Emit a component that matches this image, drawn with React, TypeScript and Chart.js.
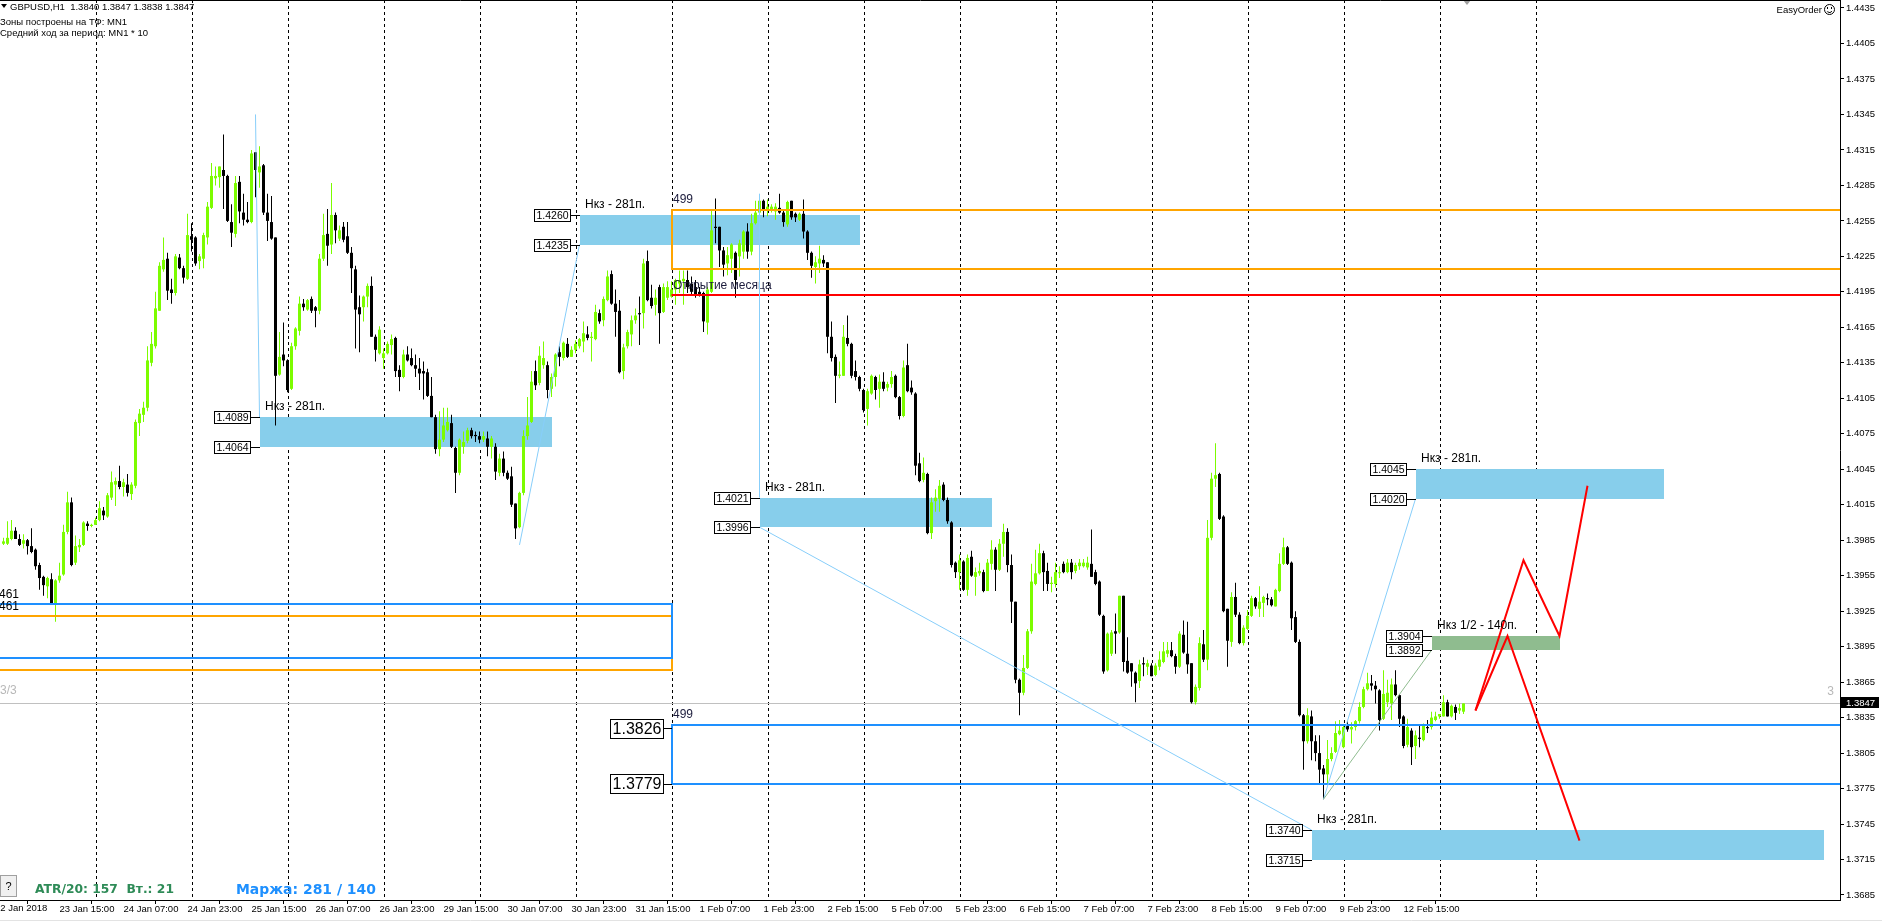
import React, { useEffect, useRef } from "react";
import { Chart, registerables } from "chart.js";

Chart.register(...registerables);

// ---------------- DATA (prices in 1/10000, GBPUSD H1) ----------------
const PRICE_SCALE = 10000;

const OPEN_P = [
  13982,13982,13986,13993,13986,13982,13985,13980,13977,13964,
  13954,13946,13952,13931,13951,13956,13992,14017,13966,13979,
  13981,13999,13997,13998,14002,14010,14005,14021,14032,14035,
  14030,14032,14024,14031,14084,14091,14097,14135,14149,14179,
  14214,14223,14197,14194,14224,14215,14206,14242,14241,14221,
  14223,14241,14266,14291,14292,14298,14293,14254,14244,14288,
  14262,14256,14254,14313,14296,14302,14262,14254,14241,14125,
  14142,14137,14113,14149,14162,14185,14180,14189,14182,14179,
  14223,14244,14235,14260,14240,14250,14242,14228,14214,14182,
  14182,14191,14200,14157,14143,14139,14143,14150,14156,14129,
  14123,14142,14139,14133,14130,14128,14127,14107,14089,14062,
  14070,14078,14084,14063,14042,14064,14069,14078,14074,14073,
  14070,14071,14064,14064,14042,14054,14042,14039,14016,13996,
  14025,14073,14085,14128,14118,14133,14133,14113,14123,14144,
  14139,14151,14140,14146,14149,14153,14159,14156,14155,14177,
  14171,14188,14210,14185,14179,14128,14149,14159,14171,14177,
  14177,14221,14190,14184,14199,14178,14190,14191,14197,14202,
  14204,14205,14202,14199,14195,14194,14169,14195,14250,14250,
  14230,14219,14223,14228,14225,14229,14246,14229,14253,14262,
  14272,14264,14265,14263,14266,14262,14252,14272,14261,14256,
  14261,14246,14228,14216,14219,14222,14220,14157,14140,14124,
  14124,14156,14151,14128,14123,14112,14096,14109,14123,14113,
  14119,14114,14117,14124,14106,14090,14133,14114,14109,14050,
  14036,14041,13991,14018,14020,14032,14019,14000,13966,13958,
  13967,13943,13971,13954,13957,13958,13942,13965,13977,13960,
  13982,13992,13964,13933,13867,13856,13877,13908,13948,13957,
  13974,13959,13948,13948,13957,13965,13958,13966,13959,13963,
  13963,13962,13965,13958,13950,13921,13875,13889,13908,13907,
  13938,13883,13881,13873,13866,13881,13878,13879,13871,13878,
  13882,13889,13892,13887,13878,13905,13889,13881,13848,13860,
  13897,13884,13987,14037,14041,14005,13927,13899,13937,13922,
  13898,13910,13921,13936,13927,13932,13936,13935,13929,13942,
  13965,13979,13966,13920,13899,13837,13815,13836,13815,13805,
  13792,13787,13800,13806,13821,13810,13828,13825,13827,13832,
  13844,13859,13864,13862,13858,13834,13848,13847,13863,13854,
  13836,13812,13824,13811,13818,13816,13827,13827,13833,13836,
  13836,13848,13836,13844,13841,13840,
];

const HIGH_P = [
  13987,14001,14002,13996,13990,13990,13986,13995,13978,13966,
  13955,13954,13957,13952,13966,13998,14026,14021,13989,13986,
  14001,14001,13999,14004,14018,14013,14025,14043,14038,14048,
  14037,14041,14034,14087,14096,14102,14149,14161,14195,14220,
  14241,14228,14206,14227,14227,14217,14261,14253,14242,14227,
  14245,14271,14304,14301,14301,14328,14294,14269,14293,14293,
  14278,14271,14315,14313,14318,14303,14278,14276,14241,14161,
  14169,14138,14152,14165,14191,14189,14189,14191,14183,14227,
  14261,14265,14287,14262,14251,14254,14254,14233,14217,14192,
  14192,14202,14208,14159,14166,14147,14153,14159,14157,14133,
  14146,14149,14147,14142,14139,14136,14130,14123,14091,14094,
  14097,14097,14091,14064,14071,14077,14080,14080,14077,14077,
  14077,14077,14073,14067,14058,14060,14044,14047,14016,14026,
  14078,14106,14128,14137,14149,14153,14136,14126,14143,14149,
  14153,14156,14149,14154,14156,14170,14166,14161,14184,14180,
  14191,14213,14213,14197,14188,14151,14163,14175,14181,14191,
  14223,14230,14201,14197,14201,14202,14204,14204,14206,14213,
  14213,14213,14208,14205,14199,14195,14199,14264,14274,14250,
  14233,14233,14236,14229,14239,14247,14253,14261,14272,14273,
  14273,14273,14269,14270,14278,14264,14272,14272,14262,14262,
  14273,14247,14229,14225,14234,14226,14220,14170,14142,14136,
  14167,14175,14152,14137,14124,14113,14113,14125,14124,14125,
  14127,14119,14128,14125,14107,14137,14151,14120,14110,14059,
  14055,14042,14021,14028,14036,14034,14021,14001,13967,13973,
  13968,13973,13976,13962,13966,13960,13969,13985,13979,13986,
  13999,13995,13973,13933,13868,13888,13910,13965,13977,13982,
  13976,13966,13954,13966,13963,13967,13969,13969,13966,13969,
  13969,13971,13994,13960,13951,13922,13907,13909,13923,13938,
  13938,13903,13881,13874,13884,13886,13884,13881,13881,13891,
  13899,13899,13899,13889,13908,13917,13916,13881,13863,13903,
  13909,14002,14042,14067,14042,14006,13927,13941,13949,13924,
  13913,13926,13938,13937,13946,13938,13940,13937,13944,13974,
  13987,13980,13967,13925,13901,13838,13843,13841,13820,13820,
  13795,13816,13810,13832,13833,13829,13832,13831,13833,13848,
  13861,13873,13871,13866,13859,13875,13867,13868,13875,13855,
  13837,13834,13826,13824,13828,13830,13833,13840,13840,13838,
  13854,13850,13846,13846,13847,13847,
];

const LOW_P = [
  13981,13981,13985,13986,13980,13978,13973,13974,13960,13943,
  13938,13936,13931,13916,13949,13955,13990,13963,13964,13975,
  13980,13993,13996,13998,14001,14002,14004,14019,14014,14028,
  14022,14022,14019,14029,14073,14085,14094,14132,14147,14179,
  14212,14188,14185,14192,14214,14202,14205,14229,14217,14214,
  14215,14235,14265,14285,14283,14265,14254,14233,14241,14253,
  14251,14253,14253,14275,14283,14260,14238,14239,14082,14124,
  14132,14110,14112,14146,14158,14179,14179,14177,14165,14176,
  14221,14217,14227,14236,14238,14237,14227,14194,14147,14144,
  14170,14182,14157,14136,14142,14130,14142,14142,14123,14111,
  14122,14136,14132,14123,14112,14104,14106,14089,14058,14056,
  14068,14077,14063,14025,14040,14058,14067,14071,14068,14067,
  14068,14056,14054,14036,14039,14039,14036,14013,13986,13995,
  14023,14070,14084,14112,14116,14130,14105,14106,14115,14132,
  14137,14139,14140,14143,14147,14144,14154,14136,14154,14168,
  14166,14187,14184,14157,14126,14121,14147,14149,14168,14150,
  14164,14187,14181,14175,14151,14177,14188,14190,14184,14194,
  14184,14194,14192,14190,14191,14161,14159,14194,14236,14216,
  14208,14209,14211,14190,14208,14223,14223,14226,14252,14256,
  14258,14259,14262,14256,14261,14250,14250,14256,14254,14255,
  14240,14222,14207,14202,14211,14216,14143,14136,14101,14122,
  14124,14149,14122,14120,14111,14093,14082,14108,14104,14097,
  14111,14111,14114,14105,14087,14089,14110,14108,14040,14034,
  14034,13990,13986,14009,14009,14018,13999,13962,13953,13943,
  13942,13938,13954,13938,13955,13941,13942,13960,13942,13959,
  13971,13958,13915,13864,13837,13854,13876,13906,13947,13956,
  13942,13942,13941,13945,13953,13957,13957,13952,13957,13960,
  13962,13960,13954,13947,13921,13872,13874,13887,13889,13906,
  13874,13872,13861,13848,13860,13870,13871,13870,13870,13875,
  13881,13886,13886,13872,13877,13889,13872,13847,13846,13858,
  13882,13875,13985,14030,14002,13924,13878,13895,13920,13897,
  13896,13909,13920,13927,13920,13920,13930,13929,13929,13941,
  13964,13964,13909,13898,13836,13791,13813,13799,13798,13779,
  13766,13779,13798,13805,13820,13809,13823,13813,13824,13830,
  13843,13858,13858,13847,13824,13833,13844,13833,13853,13827,
  13809,13810,13795,13800,13810,13815,13822,13825,13832,13834,
  13836,13836,13835,13833,13838,13838,
];

const CLOSE_P = [
  13984,13987,13993,13986,13981,13985,13980,13975,13963,13953,
  13947,13953,13931,13951,13955,13992,14017,13964,13980,13981,
  14000,13997,13998,14002,14012,14006,14023,14034,14035,14030,
  14034,14025,14032,14085,14092,14097,14137,14151,14181,14217,
  14222,14196,14194,14225,14215,14207,14243,14239,14219,14225,
  14243,14267,14293,14293,14301,14293,14255,14245,14287,14263,
  14256,14254,14312,14298,14301,14262,14255,14240,14124,14140,
  14137,14112,14149,14164,14185,14182,14188,14179,14179,14223,
  14243,14234,14260,14247,14247,14239,14228,14215,14180,14176,
  14191,14200,14157,14146,14163,14143,14151,14155,14128,14123,
  14142,14137,14133,14130,14126,14126,14107,14089,14062,14070,
  14082,14085,14064,14042,14070,14068,14078,14073,14073,14070,
  14073,14064,14071,14043,14054,14042,14037,14015,13995,14025,
  14073,14082,14119,14116,14141,14139,14112,14123,14142,14140,
  14152,14140,14146,14151,14155,14160,14156,14157,14178,14170,
  14189,14208,14185,14178,14127,14148,14161,14171,14175,14176,
  14219,14188,14183,14190,14177,14199,14199,14197,14205,14205,
  14206,14199,14195,14192,14192,14170,14197,14247,14249,14230,
  14218,14226,14235,14205,14236,14246,14229,14253,14262,14272,
  14265,14267,14267,14267,14262,14254,14271,14258,14258,14261,
  14246,14228,14217,14220,14223,14219,14157,14139,14124,14125,
  14157,14151,14124,14123,14113,14095,14111,14124,14112,14119,
  14113,14117,14123,14106,14090,14131,14111,14110,14048,14035,
  14042,13991,14017,14021,14031,14019,14001,13964,13958,13968,
  13943,13970,13955,13958,13959,13942,13966,13977,13960,13982,
  13992,13964,13933,13867,13856,13877,13908,13950,13957,13974,
  13958,13948,13949,13958,13958,13958,13966,13958,13964,13966,
  13966,13966,13954,13948,13922,13874,13906,13907,13906,13938,
  13882,13873,13874,13864,13880,13880,13881,13870,13879,13884,
  13891,13892,13887,13878,13906,13890,13880,13848,13861,13898,
  13884,13987,14037,14040,14003,13925,13900,13937,13922,13898,
  13911,13921,13936,13929,13933,13937,13935,13930,13943,13965,
  13979,13965,13919,13899,13837,13815,13837,13815,13805,13791,
  13787,13800,13805,13822,13824,13827,13825,13827,13832,13844,
  13859,13864,13862,13859,13833,13855,13856,13863,13854,13834,
  13811,13827,13810,13820,13817,13828,13826,13835,13836,13838,
  13848,13836,13845,13839,13843,13847,
];

// time axis labels (every 16 H1 bars, first at bar 14)
const X_LABEL_BARS = [14, 30, 46, 62, 78, 94, 110, 126, 142, 158, 174, 190, 206, 222, 238, 254, 270, 286, 302, 318, 334, 350];
const X_LABELS = [
  "23 Jan 15:00", "24 Jan 07:00", "24 Jan 23:00", "25 Jan 15:00", "26 Jan 07:00", "26 Jan 23:00",
  "29 Jan 15:00", "30 Jan 07:00", "30 Jan 23:00", "31 Jan 15:00", "1 Feb 07:00", "1 Feb 23:00",
  "2 Feb 15:00", "5 Feb 07:00", "5 Feb 23:00", "6 Feb 15:00", "7 Feb 07:00", "7 Feb 23:00",
  "8 Feb 15:00", "9 Feb 07:00", "9 Feb 23:00", "12 Feb 15:00",
];
const FIRST_DATE_LABEL = "22 Jan 2018";
const Y_TICKS = [
  1.4435, 1.4405, 1.4375, 1.4345, 1.4315, 1.4285, 1.4255, 1.4225, 1.4195, 1.4165, 1.4135, 1.4105, 1.4075,
  1.4045, 1.4015, 1.3985, 1.3955, 1.3925, 1.3895, 1.3865, 1.3835, 1.3805, 1.3775, 1.3745, 1.3715, 1.3685,
];
const GRID_BARS = [23.125, 47.125, 71.125, 95.125, 119.125, 143.125, 167.125, 191.125, 215.125, 239.125, 263.125, 287.125, 311.125, 335.125, 359.125, 383.125];

// supply/demand zones: [fromBar, toBar, lowPrice, highPrice]
const ZONES_281 = [
  [64, 137, 14064, 14089],
  [144, 214, 14235, 14260],
  [189, 247, 13996, 14021],
  [353, 415, 14020, 14045],
  [327, 455, 13715, 13740],
];
const ZONE_HALF = [357, 389, 13892, 13904];
const ZONE_TITLE = "Нкз - 281п.";
const ZONE_HALF_TITLE = "Нкз 1/2 - 140п.";

// monthly range boxes: [fromBar, toBar, lowPrice, highPrice]
const ORANGE_BOXES = [[167, 520, 14214, 14264], [-20, 167, 13875, 13921]];
const BLUE_BOXES = [[167, 520, 13779, 13829], [-20, 167, 13885, 13931]];
const BLUE_BOX_LEVELS = [13826, 13779];
const MONTH_OPEN = [167, 520, 14192];
const MONTH_OPEN_TEXT = "Открытие месяца";
const BOX_TAG = "499";
const LEFT_BOX_TAG = "461";

// trend lines [[bar, price], [bar, price]]
const SKY_LINES = [
  [[63, 14345], [64, 14089]],
  [[129, 13981], [144, 14235]],
  [[189, 14278], [189, 14021]],
  [[189, 13996], [327, 13740]],
  [[330, 13766], [353, 14020]],
];
const GREEN_LINE = [[330, 13766], [357, 13892]];
const RED_PATH_UP = [[368, 13841], [380, 13968], [389, 13904], [396, 14031]];
const RED_PATH_DOWN = [[368, 13841], [376, 13904], [394, 13731]];

const LAST_PRICE = 13847;
const HEADER = ["GBPUSD,H1  1.3840 1.3847 1.3838 1.3847", "Зоны построены на ТФ: MN1", "Средний ход за период: MN1 * 10"];
const ATR_TEXT = "ATR/20: 157  Вт.: 21";
const MARGIN_TEXT = "Маржа: 281 / 140";

// ---------------- helpers ----------------
const FONT = '"Liberation Sans", Arial, sans-serif';
const X_MIN = -0.875;
const X_MAX = 459.125;
const Y_MAX = 1.444176;
const Y_MIN = 1.368077;

function fitFont(ctx: CanvasRenderingContext2D, text: string, target: number, weight: string, family: string) {
  ctx.font = `${weight} 14px ${family}`;
  const w = ctx.measureText(text).width;
  const size = Math.max(10, Math.min(18, (14 * target) / w));
  ctx.font = `${weight} ${size.toFixed(2)}px ${family}`;
}

const overlayPlugin = {
  id: "mt4overlay",
  beforeDatasetsDraw(chart: any) {
    const { ctx, chartArea: ca } = chart;
    const X = (b: number) => chart.scales.x.getPixelForValue(b);
    const Y = (p: number) => chart.scales.y.getPixelForValue(p / PRICE_SCALE);
    ctx.save();
    ctx.beginPath();
    ctx.rect(ca.left, ca.top, ca.right - ca.left, ca.bottom - ca.top);
    ctx.clip();
    // dotted vertical grid
    ctx.strokeStyle = "#000";
    ctx.lineWidth = 1;
    ctx.setLineDash([3, 3]);
    for (const g of GRID_BARS) {
      const x = Math.round(X(g)) + 0.5;
      ctx.beginPath();
      ctx.moveTo(x, ca.top);
      ctx.lineTo(x, ca.bottom);
      ctx.stroke();
    }
    ctx.setLineDash([]);
    // filled zones
    const fillZone = (z: number[], color: string) => {
      const x0 = Math.round(X(z[0]));
      const x1 = Math.round(X(z[1]));
      const y0 = Math.round(Y(z[3]));
      const y1 = Math.round(Y(z[2]));
      ctx.fillStyle = color;
      ctx.fillRect(x0, y0, x1 - x0, y1 - y0);
    };
    for (const z of ZONES_281) fillZone(z, "#87CEEB");
    fillZone(ZONE_HALF, "#8FBC8F");
    // current price line
    const yl = Math.round(Y(LAST_PRICE)) + 0.5;
    ctx.strokeStyle = "#C0C0C0";
    ctx.beginPath();
    ctx.moveTo(ca.left, yl);
    ctx.lineTo(ca.right, yl);
    ctx.stroke();
    ctx.fillStyle = "#B8B8B8";
    ctx.font = `12px ${FONT}`;
    ctx.textBaseline = "middle";
    ctx.textAlign = "left";
    ctx.fillText("3/3", 0, yl - 13);
    ctx.textAlign = "right";
    ctx.fillText("3", ca.right - 6, yl - 12);
    ctx.restore();
  },
  afterDatasetsDraw(chart: any) {
    const { ctx, chartArea: ca } = chart;
    const X = (b: number) => chart.scales.x.getPixelForValue(b);
    const Y = (p: number) => chart.scales.y.getPixelForValue(p / PRICE_SCALE);
    ctx.save();
    ctx.beginPath();
    ctx.rect(ca.left, ca.top, ca.right - ca.left, ca.bottom - ca.top);
    ctx.clip();

    const box = (b: number[], color: string) => {
      const x0 = Math.round(X(b[0]));
      const x1 = Math.round(X(b[1]));
      const y0 = Math.round(Y(b[3]));
      const y1 = Math.round(Y(b[2]));
      ctx.strokeStyle = color;
      ctx.lineWidth = 2;
      ctx.strokeRect(x0, y0, x1 - x0, y1 - y0);
    };
    for (const b of ORANGE_BOXES) box(b, "#FFA500");
    for (const b of BLUE_BOXES) box(b, "#1E90FF");
    // month open line
    {
      const y = Math.round(Y(MONTH_OPEN[2]));
      ctx.strokeStyle = "#FF0000";
      ctx.lineWidth = 2;
      ctx.beginPath();
      ctx.moveTo(X(MONTH_OPEN[0]), y);
      ctx.lineTo(X(MONTH_OPEN[1]), y);
      ctx.stroke();
      ctx.fillStyle = "#1c1c3c";
      ctx.font = `12px ${FONT}`;
      ctx.textAlign = "left";
      ctx.textBaseline = "middle";
      ctx.fillText(MONTH_OPEN_TEXT, Math.round(X(MONTH_OPEN[0])) + 1, y - 9);
    }
    // tags above range boxes
    ctx.fillStyle = "#1c1c3c";
    ctx.font = `12px ${FONT}`;
    ctx.fillText(BOX_TAG, Math.round(X(ORANGE_BOXES[0][0])) + 1, Math.round(Y(ORANGE_BOXES[0][3])) - 10);
    ctx.fillText(BOX_TAG, Math.round(X(BLUE_BOXES[0][0])) + 1, Math.round(Y(BLUE_BOXES[0][3])) - 10);
    ctx.fillStyle = "#000";
    ctx.fillText(LEFT_BOX_TAG, -1, Math.round(Y(BLUE_BOXES[1][3])) - 9);
    ctx.fillText(LEFT_BOX_TAG, -1, Math.round(Y(ORANGE_BOXES[1][3])) - 9);

    // thin trend lines
    const line = (pts: number[][], color: string, w: number) => {
      ctx.strokeStyle = color;
      ctx.lineWidth = w;
      ctx.lineJoin = "miter";
      ctx.beginPath();
      pts.forEach((p, i) => {
        const x = X(p[0]);
        const y = Y(p[1]);
        if (i === 0) ctx.moveTo(x, y);
        else ctx.lineTo(x, y);
      });
      ctx.stroke();
    };
    for (const l of SKY_LINES) line(l, "#87CEFA", 1);
    line(GREEN_LINE, "#8FBC8F", 1);
    line(RED_PATH_UP, "#FF0000", 2);
    line(RED_PATH_DOWN, "#FF0000", 2);

    // zone labels
    const labelBox = (text: string, right: number, cy: number, w: number, h: number, size: number, lineTo: number) => {
      const x0 = Math.round(right - w) + 0.5;
      const y0 = Math.round(cy - h / 2) + 0.5;
      ctx.fillStyle = "#fff";
      ctx.fillRect(x0, y0, w, h);
      ctx.strokeStyle = "#000";
      ctx.lineWidth = 1;
      ctx.strokeRect(x0, y0, w, h);
      ctx.beginPath();
      ctx.moveTo(x0 + w, Math.round(cy) + 0.5);
      ctx.lineTo(lineTo, Math.round(cy) + 0.5);
      ctx.stroke();
      ctx.fillStyle = "#000";
      ctx.font = `${size}px ${FONT}`;
      ctx.textAlign = "center";
      ctx.textBaseline = "middle";
      ctx.fillText(text, x0 + w / 2, y0 + h / 2 + 0.5);
    };
    const zoneLabels = (z: number[], title: string) => {
      const left = Math.round(X(z[0]));
      const top = Y(z[3]);
      const bottom = Y(z[2]);
      labelBox((z[3] / PRICE_SCALE).toFixed(4), left - 10, top, 36, 12, 10.5, left);
      labelBox((z[2] / PRICE_SCALE).toFixed(4), left - 10, bottom, 36, 12, 10.5, left);
      ctx.fillStyle = "#000";
      ctx.font = `12px ${FONT}`;
      ctx.textAlign = "left";
      ctx.textBaseline = "middle";
      ctx.fillText(title, left + 5, Math.round(top) - 10);
    };
    for (const z of ZONES_281) zoneLabels(z, ZONE_TITLE);
    zoneLabels(ZONE_HALF, ZONE_HALF_TITLE);
    {
      const left = Math.round(X(BLUE_BOXES[0][0]));
      for (const lv of BLUE_BOX_LEVELS) labelBox((lv / PRICE_SCALE).toFixed(4), left - 9, Y(lv), 53, 19, 16, left);
    }

    // chart shift marker
    ctx.fillStyle = "#A0A0A0";
    ctx.beginPath();
    ctx.moveTo(1463, 0);
    ctx.lineTo(1471, 0);
    ctx.lineTo(1467, 5);
    ctx.closePath();
    ctx.fill();

    // bottom info
    ctx.fillStyle = "#F0F0F0";
    ctx.fillRect(0.5, 875.5, 16, 21);
    ctx.strokeStyle = "#A0A0A0";
    ctx.lineWidth = 1;
    ctx.strokeRect(0.5, 875.5, 16, 21);
    ctx.fillStyle = "#000";
    ctx.font = `11px ${FONT}`;
    ctx.textAlign = "center";
    ctx.textBaseline = "middle";
    ctx.fillText("?", 8.5, 886.5);
    ctx.textAlign = "left";
    ctx.fillStyle = "#2E8B57";
    fitFont(ctx, ATR_TEXT, 139, "bold", '"DejaVu Sans", sans-serif');
    ctx.fillText(ATR_TEXT, 35, 890);
    ctx.fillStyle = "#1E90FF";
    fitFont(ctx, MARGIN_TEXT, 140, "bold", '"DejaVu Sans", sans-serif');
    ctx.fillText(MARGIN_TEXT, 236, 890);
    ctx.restore();

    // unclipped: header texts, price tag, first date label, borders
    ctx.save();
    ctx.fillStyle = "#000";
    ctx.beginPath();
    ctx.moveTo(1, 4);
    ctx.lineTo(7, 4);
    ctx.lineTo(4, 8);
    ctx.closePath();
    ctx.fill();
    ctx.font = `9.5px ${FONT}`;
    ctx.textAlign = "left";
    ctx.textBaseline = "middle";
    ctx.fillText(HEADER[0], 10, 7);
    ctx.fillText(HEADER[1], 0, 22);
    ctx.fillText(HEADER[2], 0, 33);
    ctx.textAlign = "right";
    ctx.fillText("EasyOrder", 1822, 10);
    ctx.strokeStyle = "#000";
    ctx.lineWidth = 1;
    ctx.beginPath();
    ctx.arc(1829.5, 9.5, 5, 0, Math.PI * 2);
    ctx.stroke();
    ctx.fillRect(1827, 7, 1, 2);
    ctx.fillRect(1831, 7, 1, 2);
    ctx.beginPath();
    ctx.arc(1829.5, 9.5, 3, 0.2 * Math.PI, 0.8 * Math.PI);
    ctx.stroke();

    const yp = Math.round(Y(LAST_PRICE));
    ctx.fillStyle = "#000";
    ctx.fillRect(ca.right + 1, yp - 6, 38, 11);
    ctx.fillStyle = "#fff";
    ctx.font = `9.5px ${FONT}`;
    ctx.textAlign = "left";
    ctx.textBaseline = "middle";
    ctx.fillText((LAST_PRICE / PRICE_SCALE).toFixed(4), ca.right + 6, yp);
    ctx.fillStyle = "#000";
    ctx.textBaseline = "top";
    ctx.fillText(FIRST_DATE_LABEL, -5, ca.bottom + 4);
    ctx.strokeStyle = "#000";
    ctx.lineWidth = 1;
    ctx.beginPath();
    ctx.moveTo(0, 0.5);
    ctx.lineTo(ca.right + 1, 0.5);
    ctx.stroke();
    ctx.strokeStyle = "#E3E3E3";
    ctx.beginPath();
    ctx.moveTo(0, 920.5);
    ctx.lineTo(1882, 920.5);
    ctx.stroke();
    ctx.restore();
  },
};

export default function App() {
  const ref = useRef<HTMLCanvasElement>(null);
  useEffect(() => {
    const n = OPEN_P.length;
    const wicks: any[] = [];
    const bodies: any[] = [];
    const colors: string[] = [];
    for (let i = 0; i < n; i++) {
      const o = OPEN_P[i] / PRICE_SCALE;
      const c = CLOSE_P[i] / PRICE_SCALE;
      const h = Math.max(HIGH_P[i], OPEN_P[i], CLOSE_P[i]) / PRICE_SCALE;
      const l = Math.min(LOW_P[i], OPEN_P[i], CLOSE_P[i]) / PRICE_SCALE;
      wicks.push({ x: i, y: [l, h] });
      bodies.push({ x: i, y: [Math.min(o, c), Math.max(o, c)] });
      colors.push(c >= o ? "#7CFC00" : "#000000");
    }
    const tickFont = { family: FONT, size: 9.5 };
    const zeroPad = (s: any) => {
      s.paddingTop = 0;
      s.paddingBottom = 0;
      s.paddingLeft = 0;
      s.paddingRight = 0;
    };
    const chart = new Chart(ref.current as HTMLCanvasElement, {
      type: "bar",
      data: {
        datasets: [
          { label: "wick", data: wicks, backgroundColor: colors, barThickness: 1, grouped: false, minBarLength: 1, inflateAmount: 0, order: 1 } as any,
          { label: "body", data: bodies, backgroundColor: colors, barThickness: 3, grouped: false, minBarLength: 1, inflateAmount: 0, order: 0 } as any,
        ],
      },
      options: {
        animation: false,
        responsive: false,
        devicePixelRatio: 1,
        events: [],
        layout: { padding: 0 },
        plugins: { legend: { display: false }, tooltip: { enabled: false } },
        scales: {
          x: {
            type: "linear",
            min: X_MIN,
            max: X_MAX,
            offset: false,
            afterBuildTicks: (s: any) => {
              s.ticks = X_LABEL_BARS.map((v) => ({ value: v }));
            },
            afterFit: (s: any) => {
              s.height = 22;
              zeroPad(s);
            },
            ticks: {
              autoSkip: false,
              maxRotation: 0,
              minRotation: 0,
              align: "start",
              padding: 0,
              color: "#000",
              font: tickFont,
              callback: (_v: any, i: number) => X_LABELS[i],
            },
            grid: { display: true, drawOnChartArea: false, drawTicks: true, tickLength: 4, color: "#000", lineWidth: 1 },
            border: { display: true, color: "#000", width: 1 },
          },
          y: {
            type: "linear",
            position: "right",
            min: Y_MIN,
            max: Y_MAX,
            afterBuildTicks: (s: any) => {
              s.ticks = Y_TICKS.map((v) => ({ value: v }));
            },
            afterFit: (s: any) => {
              s.width = 42;
              zeroPad(s);
            },
            ticks: {
              padding: 2,
              color: "#000",
              font: tickFont,
              callback: (v: any) => Number(v).toFixed(4),
            },
            grid: { display: true, drawOnChartArea: false, drawTicks: true, tickLength: 4, color: "#000", lineWidth: 1 },
            border: { display: true, color: "#000", width: 1 },
          },
        },
      } as any,
      plugins: [overlayPlugin],
    });
    return () => chart.destroy();
  }, []);
  return (
    <div style={{ position: "fixed", left: 0, top: 0, width: 1882, height: 922, background: "#fff", overflow: "hidden" }}>
      <canvas ref={ref} width={1882} height={922} style={{ display: "block", width: 1882, height: 922 }} />
    </div>
  );
}
